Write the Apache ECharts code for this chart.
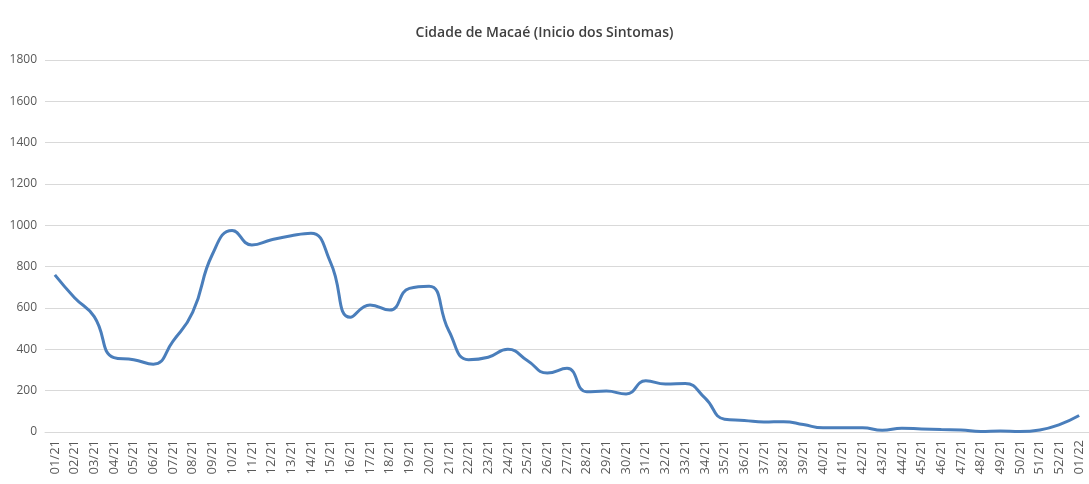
<!DOCTYPE html>
<html>
<head>
<meta charset="utf-8">
<script src="https://cdn.jsdelivr.net/npm/echarts@6/dist/echarts.min.js"></script>
<style>
  html, body { margin: 0; padding: 0; background: #fff; }
  #chart { width: 1089px; height: 484px; }
</style>
</head>
<body>
<div id="chart"></div>
<script>
// semanas epidemiologicas
const weeks = [
  '01/21', '02/21', '03/21', '04/21', '05/21', '06/21', '07/21', '08/21', '09/21', '10/21',
  '11/21', '12/21', '13/21', '14/21', '15/21', '16/21', '17/21', '18/21', '19/21', '20/21',
  '21/21', '22/21', '23/21', '24/21', '25/21', '26/21', '27/21', '28/21', '29/21', '30/21',
  '31/21', '32/21', '33/21', '34/21', '35/21', '36/21', '37/21', '38/21', '39/21', '40/21',
  '41/21', '42/21', '43/21', '44/21', '45/21', '46/21', '47/21', '48/21', '49/21', '50/21',
  '51/21', '52/21', '01/22'
];
const cases = [
  760, 650, 558, 360, 350, 328, 440, 580, 860, 975,
  905, 930, 950, 962, 820, 555, 615, 590, 695, 705,
  490, 350, 362, 400, 345, 285, 308, 195, 198, 184,
  248, 232, 235, 165, 62, 56, 48, 50, 36, 20,
  20, 21, 8, 18, 15, 12, 10, 2, 5, 2,
  10, 36, 80
];

const chart = echarts.init(document.getElementById('chart'));
chart.setOption({
  animation: false,
  title: {
    text: 'Cidade de Macaé (Inicio dos Sintomas)',
    left: 'center',
    top: 21,
    textStyle: { fontFamily: 'Open Sans', fontSize: 14, fontWeight: 600, color: '#404040' },
  },
  grid: { left: 45, right: 0, top: 60, bottom: 52 },
  xAxis: {
    type: 'category',
    data: weeks,
    boundaryGap: true,
    axisLine: { lineStyle: { color: '#d9d9d9' } },
    axisTick: { show: false },
    axisLabel: {
      rotate: 90,
      interval: 0,
      margin: 8,
      color: '#595959',
      fontFamily: 'Open Sans',
      fontSize: 13,
    },
  },
  yAxis: {
    type: 'value',
    min: 0,
    max: 1800,
    interval: 200,
    axisLine: { show: false },
    axisTick: { show: false },
    axisLabel: {
      color: '#595959',
      fontFamily: 'Open Sans',
      fontSize: 12,
      margin: 8,
      formatter: (v) => String(v),
    },
    splitLine: { lineStyle: { color: '#d9d9d9' } },
  },
  series: [
    {
      type: 'line',
      data: cases,
      smooth: 0.5,
      showSymbol: false,
      color: '#4a7ebb',
      lineStyle: { width: 3, color: '#4a7ebb' },
    },
  ],
});
</script>
</body>
</html>
